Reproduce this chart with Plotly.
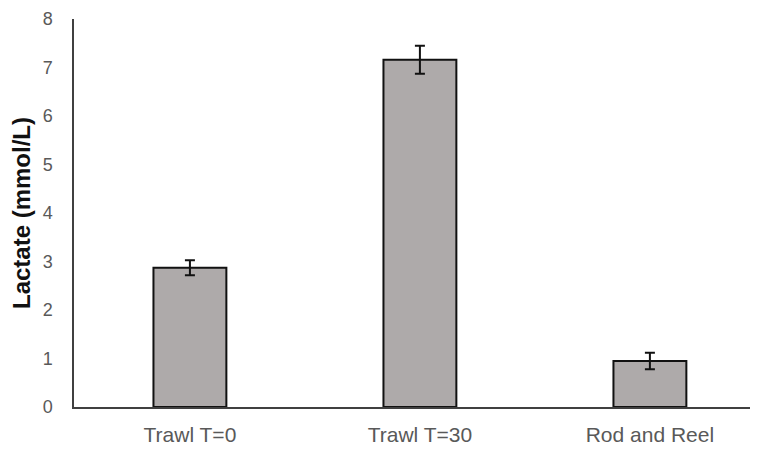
import plotly.graph_objects as go

categories = ["Trawl T=0", "Trawl T=30", "Rod and Reel"]
lactate = [2.87, 7.16, 0.95]
lactate_err = [0.155, 0.29, 0.17]
y_ticks = [0, 1, 2, 3, 4, 5, 6, 7, 8]

fig = go.Figure()
fig.add_trace(go.Bar(
    x=[0, 1, 2],
    y=lactate,
    width=0.317,
    marker=dict(color="#AEAAAA", line=dict(color="#111111", width=2)),
    error_y=dict(type="data", array=lactate_err, visible=True,
                 color="#111111", thickness=2, width=5),
))

# page body has an 8px default margin, so the figure is sized to fit inside it
fig.update_layout(
    width=750, height=441,
    margin=dict(l=66, r=0, t=11, b=42),
    paper_bgcolor="white", plot_bgcolor="white",
    showlegend=False,
    font=dict(family="Liberation Sans", color="#595959", size=17),
)
fig.update_xaxes(
    range=[-0.504, 2.47],
    tickmode="array", tickvals=[0, 1, 2], ticktext=categories,
    showline=True, linecolor="#404040", linewidth=1.5,
    showgrid=False, zeroline=False, ticks="",
    tickfont=dict(size=21, color="#595959"),
    ticklabelstandoff=8,
    automargin=False,
)
fig.update_yaxes(
    range=[0, 8],
    tickmode="array", tickvals=y_ticks,
    showline=True, linecolor="#404040", linewidth=1.5,
    showgrid=False, zeroline=False, ticks="",
    tickfont=dict(size=18, color="#595959"),
    ticklabelstandoff=16,
    title=dict(text="<b>Lactate (mmol/L)</b>",
               font=dict(size=24, color="#111111"), standoff=7),
    automargin=False,
)

fig.write_html("out.html")
